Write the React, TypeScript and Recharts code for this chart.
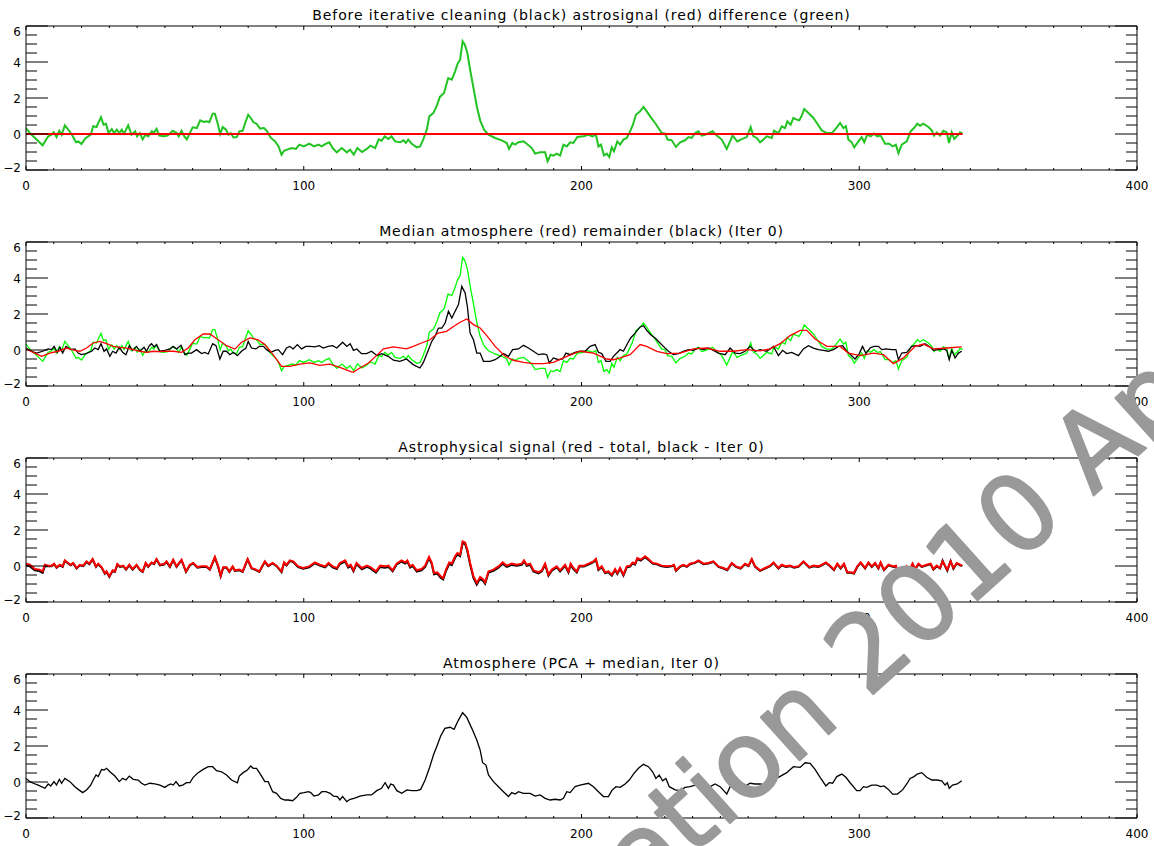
import { Line, LineChart, XAxis, YAxis } from 'recharts'

// x positions for the axis ticks (minor every 10, labelled every 100)
const xTicks = [0, 10, 20, 30, 40, 50, 60, 70, 80, 90, 100, 110, 120, 130, 140, 150, 160, 170, 180, 190, 200,
  210, 220, 230, 240, 250, 260, 270, 280, 290, 300, 310, 320, 330, 340, 350, 360, 370, 380, 390, 400]
// y ticks every 0.5, labelled every 2
const yTicks = [-2, -1.5, -1, -0.5, 0, 0.5, 1, 1.5, 2, 2.5, 3, 3.5, 4, 4.5, 5, 5.5, 6]

const titles = [
  'Before iterative cleaning (black) astrosignal (red) difference (green)',
  'Median atmosphere (red) remainder (black) (Iter 0)',
  'Astrophysical signal (red - total, black - Iter 0)',
  'Atmosphere (PCA + median, Iter 0)',
]

// difference signal (green, panels 1 and 2)
const diffPts: [number, number][] = [
  [0, 0.33], [1.4, 0.05], [3.8, -0.3], [6, -0.63], [8, -0.13], [9.2, -0.04], [10, 0.1], [11, -0.17], [12, 0.18], [12.8, -0.04],
  [14, 0.48], [15.2, 0.24], [16.4, 0], [18, -0.46], [18.8, -0.41], [20, -0.56], [21.2, -0.28], [22.4, -0.13], [23.3, -0.04], [24.2, 0.43],
  [25.4, 0.39], [26, 0.6], [27, 0.93], [27.9, 0.52], [28.8, 0.57], [29.7, 0.05], [30.9, 0.28], [31.7, 0.05], [32.7, 0.24], [33.6, 0.05],
  [34.5, 0.24], [35.3, 0.02], [36.8, 0.48], [38, -0.04], [39.3, 0.15], [40, -0.13], [41, 0.05], [42, -0.3], [43, -0.04], [44, -0.13],
  [45.3, 0.15], [46, 0.05], [47, 0.28], [48, -0.09], [49.5, -0.13], [51, -0.09], [52.8, 0.18], [54.3, 0.05], [55, -0.13], [56, 0.18],
  [57, -0.13], [57.9, -0.3], [59, 0.05], [60, 0.37], [61.5, 0.33], [62.7, 0.76], [64, 0.67], [65, 0.7], [66, 0.65], [67.2, 1.13],
  [68, 1.13], [69, 0.6], [69.9, 0], [70.8, 0.39], [72, 0.24], [72.9, -0.04], [73.7, 0.05], [74.7, -0.19], [75.9, -0.17], [76.8, 0.15],
  [78, 0.18], [78.9, 0.6], [80, 1.07], [80.9, 0.89], [81.9, 0.65], [83, 0.57], [84.3, 0.3], [85.7, 0.33], [86.7, 0.18], [88, -0.19],
  [89.7, -0.41], [90.9, -0.68], [92, -1.15], [92.9, -0.93], [94, -0.87], [95.7, -0.78], [97.2, -0.83], [98.4, -0.59], [100, -0.69], [102, -0.54],
  [103.7, -0.69], [105.3, -0.59], [106.5, -0.69], [107.7, -0.56], [109.2, -0.46], [110.4, -0.78], [111.9, -1.02], [113.7, -0.78], [115.5, -1.02], [116.7, -0.87],
  [118, -1.15], [119.3, -0.78], [121, -1.0], [122.7, -0.83], [124, -0.65], [125.7, -0.78], [127, -0.3], [128, -0.37], [129.2, -0.13], [130.5, -0.28],
  [131.6, -0.13], [132.9, -0.41], [134.7, -0.46], [135.9, -0.35], [136.8, -0.5], [137.6, -0.31], [138.9, -0.54], [140.7, -0.74], [141.9, -0.69], [143, -0.31],
  [144.3, 0.24], [145.2, 0.98], [146.7, 1.17], [147.9, 1.57], [149, 2.06], [150.5, 2.28], [152, 3.11], [153.3, 3.02], [154.5, 3.48], [155.4, 3.91],
  [156.3, 4.13], [157.2, 5.15], [158, 4.96], [158.9, 4.5], [159.9, 3.57], [161.1, 2.56], [162.3, 1.54], [163.5, 0.76], [164.9, 0.24], [166.5, -0.04],
  [168.9, -0.22], [171.3, -0.35], [173.1, -0.5], [173.9, -0.83], [175.1, -0.5], [176.1, -0.59], [177.3, -0.46], [179.1, -0.41], [180.3, -0.54], [182.1, -0.78],
  [183.3, -1.09], [185.1, -1.02], [186.9, -1.02], [187.8, -1.52], [188.9, -1.15], [189.9, -1.2], [191.1, -1.09], [192.3, -1.2], [193.5, -0.59], [194.7, -0.69],
  [195.9, -0.46], [197.1, -0.5], [198.5, -0.17], [200.7, -0.13], [202.5, -0.04], [204, -0.13], [205.2, -0.04], [206.1, -0.69], [207, -0.59], [208.1, -1.19],
  [209.1, -1.09], [210, -1.28], [210.9, -0.74], [211.7, -0.96], [212.9, -0.41], [213.9, -0.59], [215.1, -0.31], [216.3, -0.22], [217.2, 0.05], [218.4, 0.46],
  [219.6, 1.07], [221.1, 1.26], [222.3, 1.5], [223.5, 1.26], [224.9, 0.94], [226.5, 0.61], [227.7, 0.33], [228.9, 0.05], [230.1, 0.02], [231, -0.31],
  [232.5, -0.35], [234, -0.72], [235.5, -0.46], [237.3, -0.35], [238.5, -0.17], [239.7, -0.22], [240.9, 0.05], [242.1, 0.15], [243.3, -0.09], [244.5, -0.04],
  [245.7, 0.05], [247.2, 0.15], [248.7, -0.09], [250.5, -0.31], [252.3, -0.83], [253.5, -0.41], [254.4, -0.09], [256.1, -0.41], [257.7, -0.28], [259.5, -0.17],
  [260.9, 0.39], [261.9, -0.13], [263.1, -0.22], [264.3, -0.46], [265.5, -0.31], [266.7, -0.13], [268.5, -0.22], [269.3, 0.18], [270.9, 0.05], [272.1, 0.43],
  [273.3, 0.33], [274.1, 0.7], [275.3, 0.52], [276.3, 0.89], [277.5, 0.8], [278.4, 0.76], [279.3, 1.02], [280.2, 1.39], [281.7, 1.17], [283.5, 0.89],
  [284.9, 0.57], [286.5, 0.2], [288.3, 0.05], [290.1, 0.05], [291.3, 0.24], [293.1, 0.61], [294.3, 0.33], [295.2, 0.43], [296.1, -0.31], [297.3, -0.46],
  [298.2, -0.74], [299.7, -0.41], [300.9, -0.17], [301.8, -0.46], [302.9, -0.04], [304.1, -0.13], [305.3, 0.02], [306.5, -0.13], [307.7, -0.09], [309.3, -0.54],
  [310.8, -0.54], [312, -0.69], [313.2, -0.59], [314.1, -1.06], [315.3, -0.59], [317.1, -0.41], [318.5, 0.15], [319.7, 0.33], [320.9, 0.57], [321.9, 0.46],
  [323.1, 0.57], [324.9, 0.39], [326.1, 0.2], [326.9, -0.09], [327.9, 0.09], [329.1, -0.09], [330.3, 0.18], [331.5, 0.09], [332.3, -0.5], [333.3, 0.09],
  [334.2, -0.28], [335.7, -0.04], [336.3, 0.09], [337.2, 0.02],
]

// astrosignal before cleaning (red, panel 1)
const astroZeroPts: [number, number][] = [[0, 0], [337.2, 0]]

// median atmosphere (red, panel 2)
const medianPts: [number, number][] = [
  [0, 0.05], [2.6, -0.13], [5.6, -0.35], [8.6, -0.17], [11.6, -0.07], [14.6, 0.11], [17.6, -0.02], [19.4, -0.07], [21.8, 0.11], [24.2, 0.39],
  [26.6, 0.48], [29, 0.35], [31.4, 0.2], [33.8, 0.15], [36.2, 0.11], [38.6, 0.02], [41, -0.07], [43.4, -0.13], [45.8, -0.07], [48.2, -0.09],
  [50.6, -0.07], [53, -0.07], [56, -0.13], [58.4, 0.11], [60.8, 0.57], [63.8, 0.89], [66.2, 0.89], [69.2, 0.57], [72.2, 0.24], [75.2, 0.05],
  [77.6, 0.43], [80.6, 0.67], [83.6, 0.57], [86, 0.3], [89, -0.26], [92, -0.91], [95, -0.91], [98.6, -0.78], [102.2, -0.72], [105.8, -0.85],
  [109.4, -0.78], [113, -0.96], [116.7, -1.19], [117.8, -1.24], [120.2, -1.0], [123.3, -0.72], [126.3, -0.3], [128.7, 0.07], [132.2, 0.17], [137, 0.06],
  [139.4, 0.2], [142.4, 0.39], [145.4, 0.57], [148.4, 0.94], [151.4, 1.04], [153.9, 1.31], [156.3, 1.54], [158.7, 1.72], [161.1, 1.41], [163.5, 1.22],
  [165.9, 0.8], [168.9, 0.2], [172.5, -0.35], [175.5, -0.57], [179.1, -0.69], [182.7, -0.76], [186.3, -0.76], [189.9, -0.69], [194.7, -0.35], [199.5, -0.07],
  [204.3, -0.17], [209.1, -0.5], [211.5, -0.54], [213.9, -0.44], [217.5, -0.26], [221.1, 0.3], [223.5, 0.2], [227.1, -0.07], [230.7, -0.2], [235.5, -0.17],
  [240.3, 0.06], [245.1, 0.11], [249.9, -0.07], [254.7, -0.07], [259.5, 0.02], [264.3, -0.05], [267.9, 0.06], [271.5, 0.35], [275.1, 0.8], [278.7, 1.09],
  [281.1, 1.09], [284.1, 0.61], [288.3, 0.2], [293.1, 0.2], [296.1, -0.17], [300.3, -0.31], [305.1, -0.17], [308.7, -0.26], [312.3, -0.76], [315.9, -0.44],
  [320.1, 0.2], [323.1, 0.33], [326.7, 0.06], [331.5, 0.11], [336.9, 0.17],
]

// remainder (black, panel 2)
const remainderPts: [number, number][] = [
  [0, 0.11], [2, -0.07], [3.8, -0.17], [6, -0.07], [8, 0.06], [9.2, 0.02], [10.1, 0.2], [11.3, -0.13], [12.2, 0.15], [13.2, -0.17],
  [14.4, 0.2], [16.1, 0.02], [17.6, 0.06], [18.8, -0.17], [20, -0.26], [21.6, -0.2], [23.6, -0.07], [24.8, 0.11], [26, 0.02], [27, 0.35],
  [28.1, -0.07], [29, 0.06], [30.2, -0.35], [31.2, -0.07], [32.4, -0.17], [33.6, 0.15], [34.8, -0.13], [36, -0.26], [37.2, 0.24], [38.4, -0.02],
  [39.8, 0.2], [41, -0.07], [42.5, 0.15], [43.4, -0.07], [44.4, 0.24], [45.2, 0.35], [46.1, 0.17], [47, 0.3], [48.2, -0.07], [50, -0.02],
  [51.8, 0.06], [53, 0.2], [54.2, 0.06], [55.8, 0.26], [57.2, -0.26], [58.4, -0.17], [59.6, -0.17], [61.4, 0.02], [63.2, -0.2], [64.4, -0.13],
  [65.6, -0.22], [67.2, 0.35], [68.4, 0.24], [69.8, -0.5], [71, -0.07], [72.2, -0.07], [73.4, -0.26], [74.6, -0.13], [76.1, -0.31], [77.6, -0.07],
  [79.2, 0.11], [80, 0.48], [81.2, 0.11], [82.8, 0.06], [84, 0.2], [85.5, 0.2], [86.6, 0.02], [88.1, -0.13], [89.7, -0.02], [90.8, 0.02],
  [92.4, -0.26], [93.8, 0.11], [95, 0.2], [96.2, 0.06], [97.7, 0.3], [99.2, 0.06], [100.8, 0.2], [102.2, 0.2], [104, 0.17], [105.6, 0.24],
  [107, 0.11], [108.8, 0.2], [110.4, 0.24], [111.9, 0.11], [114, 0.43], [115.5, 0.2], [116.7, 0.35], [117.9, -0.02], [119.1, 0.06], [120.8, -0.2],
  [122.6, -0.2], [124.4, -0.07], [126.3, -0.31], [128.1, -0.2], [130.4, -0.35], [132.3, -0.57], [134.6, -0.63], [137, -0.5], [139.4, -0.81], [141.8, -1.0],
  [143, -0.72], [144.9, 0.02], [146.1, 0.48], [147.3, 0.76], [148.5, 1.22], [149.7, 1.22], [150.9, 1.5], [152.1, 2.15], [153.3, 1.78], [154.5, 2.15],
  [155.7, 2.52], [156.9, 3.54], [158.1, 3.17], [158.9, 2.43], [159.9, 0.94], [161.1, 0.57], [162.3, -0.17], [163.5, -0.17], [164.7, -0.63], [167.1, -0.63],
  [168.9, -0.54], [170.7, -0.35], [171.9, -0.2], [173.7, -0.35], [175.2, 0.02], [177.3, 0.06], [179.1, 0.26], [180.9, 0.11], [182.7, -0.07], [184.5, -0.26],
  [186.3, -0.22], [187.5, -0.26], [188.4, -0.72], [189.9, -0.44], [191.7, -0.54], [193.2, -0.5], [194.4, -0.17], [195.9, -0.26], [197.7, -0.13], [199.5, -0.07],
  [201.3, -0.07], [203.1, 0.2], [204.9, 0.3], [206.1, -0.13], [207.3, -0.2], [208.8, -0.63], [210.3, -0.63], [211.5, -0.35], [212.7, -0.17], [213.9, 0.02],
  [215.1, -0.07], [216.5, 0.35], [217.7, 0.67], [219.3, 0.94], [221.1, 1.28], [222.3, 1.35], [223.5, 1.09], [224.9, 0.85], [226.5, 0.67], [228, 0.43],
  [229.5, 0.2], [231.3, -0.07], [233.1, -0.26], [234.9, -0.2], [236.7, -0.07], [238.5, 0.02], [240.3, -0.02], [242.1, 0.11], [243.9, 0.02], [245.7, 0.11],
  [247.5, -0.02], [249.3, -0.17], [251.7, -0.26], [253.5, 0.11], [255.3, -0.17], [257.1, -0.2], [258.9, -0.07], [260.7, 0.2], [262.5, -0.07], [264.3, 0.02],
  [266.7, -0.07], [269.1, 0.2], [270.9, -0.31], [272.4, -0.02], [273.9, -0.2], [275.7, -0.13], [278.1, -0.31], [279.9, 0.06], [281.7, 0.24], [283.5, 0.11],
  [285.3, 0.02], [287.1, -0.02], [288.9, -0.07], [290.7, 0.02], [292.5, 0.2], [294, 0.24], [295.5, -0.07], [296.9, -0.26], [298.5, -0.5], [300, -0.2],
  [301.2, 0.2], [302.4, -0.2], [303.9, 0.11], [305.3, 0.2], [306.9, 0.2], [308.1, 0.02], [309.6, 0.06], [311.7, 0.02], [313.2, 0.02], [314.1, -0.54],
  [315.3, -0.17], [317.1, -0.13], [318.9, 0.2], [320.4, 0.24], [321.9, 0.2], [323.7, 0.35], [325.5, 0.17], [326.7, -0.02], [328.5, 0.02], [330.3, 0.06],
  [331.5, -0.02], [332.4, -0.54], [333.3, -0.02], [334.5, -0.44], [335.7, -0.17], [336.9, -0.07],
]

// astrophysical signal, panel 3: [x, total (red), iter 0 (black)]
const astroRows: [number, number, number][] = [
  [0, 0.13, 0.05], [1.4, 0.07, -0.02], [3.2, -0.17, -0.24], [4.8, -0.2, -0.28], [6, -0.3, -0.38], [6.8, 0.07, 0.0], [8, 0.02, -0.02], [9.2, 0.02, -0.01],
  [10.1, 0.13, 0.1], [11, -0.07, -0.1], [12.2, 0.07, 0.04], [13.2, -0.02, -0.05], [14, 0.31, 0.28], [15.2, 0.17, 0.14], [16.1, 0.07, 0.04], [17, 0.17, 0.14],
  [18.2, -0.11, -0.14], [19.4, 0.07, 0.04], [20.6, 0.02, -0.01], [21.8, 0.26, 0.23], [22.8, 0.13, 0.1], [24, 0.39, 0.36], [25.2, -0.02, -0.05], [26, 0.13, 0.1],
  [27.2, -0.06, -0.09], [28.4, -0.39, -0.43], [29, -0.3, -0.33], [30, -0.57, -0.61], [31.2, -0.24, -0.27], [32, -0.3, -0.33], [32.9, 0.11, 0.08], [33.8, -0.02, -0.05],
  [35, 0.02, -0.01], [36, -0.17, -0.2], [37.2, 0.07, 0.04], [38.4, -0.17, -0.2], [39.8, 0.07, 0.04], [41, -0.2, -0.23], [42, -0.3, -0.33], [43.1, 0.17, 0.14],
  [44, -0.02, -0.05], [45.2, 0.2, 0.17], [46.1, 0.13, 0.1], [47, 0.39, 0.36], [48.2, 0.07, 0.04], [49.7, 0.11, 0.08], [50.6, 0.26, 0.23], [51.8, -0.02, -0.05],
  [53, 0.35, 0.32], [54.2, -0.02, -0.05], [56, 0.35, 0.32], [57.6, -0.3, -0.33], [59, 0.07, 0.04], [60.2, 0.17, 0.14], [61.7, -0.06, -0.09], [63.2, -0.02, -0.05],
  [65, -0.02, -0.05], [66.2, -0.17, -0.2], [68, 0.5, 0.47], [69.2, -0.02, -0.05], [70.1, -0.54, -0.57], [71, -0.07, -0.1], [72.2, -0.07, -0.1], [73.2, -0.3, -0.33],
  [74.4, -0.02, -0.05], [75.2, -0.24, -0.27], [76.8, -0.2, -0.23], [78, -0.3, -0.33], [79.8, 0.39, 0.36], [81.2, -0.11, -0.14], [82.8, -0.2, -0.23], [84, -0.3, -0.33],
  [86, 0.26, 0.23], [87.2, 0.02, -0.01], [88.8, 0.17, 0.14], [90.2, 0.02, -0.01], [92, -0.3, -0.34], [92.9, 0.2, 0.16], [93.8, 0.07, 0.03], [95, 0.31, 0.27],
  [96.2, 0.26, 0.22], [98, -0.02, -0.06], [99.8, -0.11, -0.15], [102, -0.02, -0.07], [104, 0.2, 0.15], [105.8, 0.07, 0.02], [107.7, -0.02, -0.07], [108.9, 0.17, 0.12],
  [110.4, -0.02, -0.08], [111.9, -0.11, -0.17], [113, 0.17, 0.11], [114.9, 0.31, 0.25], [116, -0.02, -0.08], [116.9, 0.07, 0.01], [117.9, -0.24, -0.3], [119, 0.17, 0.11],
  [120.9, -0.11, -0.18], [122.7, 0.02, -0.05], [124, -0.06, -0.13], [126, -0.3, -0.37], [127.5, 0.02, -0.05], [129.2, -0.02, -0.09], [130.5, 0.02, -0.05], [132, -0.24, -0.3],
  [133.4, 0.13, 0.07], [135.2, 0.31, 0.25], [136.5, 0.2, 0.14], [137.3, 0.31, 0.25], [138.3, -0.02, -0.08], [139.2, 0.07, 0.01], [140.7, -0.24, -0.31], [142.4, -0.17, -0.24],
  [143.7, 0.02, -0.05], [145.1, 0.5, 0.43], [146.1, 0.17, 0.1], [146.9, -0.39, -0.46], [148.1, -0.35, -0.42], [149.3, -0.57, -0.65], [150.2, -0.67, -0.75], [151.2, -0.2, -0.28],
  [152.4, 0.2, 0.12], [153.3, 0.13, 0.05], [154.5, 0.54, 0.46], [155.3, 0.72, 0.64], [156.3, 0.63, 0.55], [157.2, 1.37, 1.28], [158.1, 1.31, 1.22], [158.9, 0.91, 0.82],
  [159.9, 0.17, 0.08], [161.1, -0.57, -0.66], [162.3, -0.94, -1.03], [163.5, -0.61, -0.7], [164.7, -0.76, -0.85], [165.3, -0.91, -0.98], [166.5, -0.3, -0.37], [168.3, -0.2, -0.27],
  [170.1, -0.02, -0.09], [171.6, 0.2, 0.13], [173.1, 0.02, -0.05], [174.9, 0.13, 0.06], [176.7, 0.07, 0.01], [178.5, 0.13, 0.07], [179.3, 0.31, 0.25], [180.3, 0.07, 0.01],
  [181.5, 0.13, 0.07], [182.7, -0.24, -0.3], [184.5, -0.35, -0.41], [185.7, -0.24, -0.3], [186.9, 0.13, 0.07], [188.1, -0.48, -0.54], [189.3, -0.2, -0.26], [191.1, -0.02, -0.08],
  [192.3, -0.24, -0.3], [194.1, 0.07, 0.01], [195.3, -0.3, -0.36], [196.1, 0.13, 0.07], [197.1, -0.11, -0.17], [198.3, -0.3, -0.36], [199.2, 0.02, -0.03], [200.9, 0.02, -0.03],
  [202.5, 0.13, 0.08], [204.3, 0.26, 0.21], [205.2, 0.39, 0.34], [206.1, -0.17, -0.22], [207.3, -0.02, -0.07], [208.5, -0.35, -0.4], [209.7, -0.3, -0.35], [210.9, -0.48, -0.53],
  [212.1, -0.17, -0.22], [212.9, -0.39, -0.44], [213.9, -0.11, -0.16], [215.1, -0.48, -0.53], [216.3, -0.02, -0.07], [217.5, 0.02, -0.03], [218.4, 0.2, 0.15], [219.3, 0.13, 0.08],
  [220.1, 0.44, 0.39], [221.3, 0.35, 0.3], [222.9, 0.54, 0.49], [224.1, 0.39, 0.34], [225.6, 0.17, 0.13], [227.1, 0.13, 0.09], [228.9, 0.02, -0.02], [230.7, -0.02, -0.05],
  [232.5, 0.02, -0.01], [233.3, 0.07, 0.04], [234, -0.24, -0.27], [235.5, -0.02, -0.05], [236.7, 0.07, 0.04], [237.9, -0.02, -0.05], [239.1, 0.13, 0.1], [240.9, 0.2, 0.17],
  [242.1, 0.31, 0.28], [243.9, 0.13, 0.1], [245.7, 0.17, 0.14], [247.5, 0.26, 0.23], [249.3, -0.02, -0.05], [251.1, -0.11, -0.14], [252.5, -0.2, -0.23], [254.1, 0.17, 0.14],
  [255.6, -0.02, -0.05], [257.3, -0.11, -0.14], [258.9, 0.13, 0.1], [260.1, 0.02, -0.01], [261.3, 0.39, 0.36], [262.5, -0.02, -0.05], [264.3, -0.24, -0.27], [266.1, -0.11, -0.14],
  [267.9, 0.02, -0.01], [269.1, 0.2, 0.17], [270.9, -0.11, -0.14], [272.1, 0.07, 0.04], [273.6, -0.02, -0.05], [275.1, 0.02, -0.01], [276.5, -0.06, -0.09], [278.1, -0.02, -0.05],
  [279.9, 0.26, 0.23], [282, -0.06, -0.09], [283.5, 0.02, -0.01], [285.3, -0.02, -0.05], [286.5, 0.07, 0.04], [288, 0.2, 0.17], [289.5, 0.02, -0.01], [290.9, -0.2, -0.23],
  [292.1, 0.13, 0.1], [293.3, -0.11, -0.14], [294.5, 0.13, 0.1], [295.7, -0.35, -0.38], [296.9, -0.35, -0.38], [298.1, -0.39, -0.42], [299.3, -0.02, -0.05], [300.5, 0.2, 0.17],
  [302.1, -0.11, -0.14], [303.3, 0.2, 0.17], [304.5, -0.02, -0.05], [305.7, 0.17, 0.14], [306.9, -0.11, -0.14], [307.7, 0.2, 0.17], [308.9, -0.2, -0.23], [310.5, 0.07, 0.04],
  [312.3, -0.02, -0.05], [313.2, 0.02, -0.01], [314.1, -0.43, -0.46], [314.9, -0.17, -0.2], [315.9, -0.3, -0.33], [317.1, -0.02, -0.05], [318, -0.24, -0.27], [319.2, 0.13, 0.1],
  [320.1, -0.17, -0.2], [321.3, 0.13, 0.1], [322.5, -0.02, -0.05], [324.3, 0.07, 0.04], [325.7, 0.13, 0.1], [326.7, -0.17, -0.2], [327.9, 0.02, -0.01], [329.1, -0.11, -0.14],
  [330, 0.26, 0.3], [330.9, 0.02, -0.02], [331.7, -0.2, -0.26], [332.9, 0.26, 0.28], [333.9, -0.11, -0.15], [335.1, 0.17, 0.14], [336.3, 0.07, 0.04], [337.1, 0.02, -0.01],
]

// atmosphere, PCA + median (black, panel 4)
const atmospherePts: [number, number][] = [
  [0, 0.2], [1.4, 0.02], [2.6, -0.07], [4.4, -0.17], [6.8, -0.35], [8, -0.11], [8.9, -0.22], [10.1, 0.02], [11, -0.17], [12, 0.15],
  [12.8, -0.07], [14, 0.2], [15.8, 0.02], [17.6, -0.26], [18.8, -0.41], [20.4, -0.59], [21.8, -0.44], [23.3, -0.17], [24.2, 0.11], [25.2, 0.39],
  [26, 0.3], [27.2, 0.7], [28.1, 0.67], [29, 0.76], [30.2, 0.57], [32, 0.33], [33.6, 0.02], [34.8, 0.2], [36, 0.11], [37.2, 0.33],
  [38.6, 0.15], [40.4, 0.11], [41.6, -0.07], [42.8, -0.17], [44.6, -0.07], [46.4, -0.11], [48.2, -0.17], [50, -0.3], [51.2, -0.17], [52.1, -0.11],
  [53, -0.17], [54, 0.02], [55.2, -0.22], [56.4, -0.17], [57.8, -0.04], [59, -0.04], [60.2, 0.26], [62, 0.52], [63.8, 0.7], [65.6, 0.85],
  [67.2, 0.85], [68.6, 0.63], [70.4, 0.57], [72.2, 0.39], [74, 0.11], [76.1, -0.04], [76.8, 0.33], [78.2, 0.52], [79.7, 0.67], [80.9, 0.89],
  [81.8, 0.76], [83, 0.76], [84.2, 0.48], [86, 0.02], [87.2, 0.02], [88.8, -0.54], [90.2, -0.63], [91.7, -0.91], [93.2, -1.0], [94.4, -1.0],
  [96, -1.04], [97.4, -0.85], [98.6, -0.63], [100.1, -0.59], [101.7, -0.54], [102.5, -0.59], [103.7, -0.78], [105.3, -0.72], [106.5, -0.54], [108, -0.54],
  [109.5, -0.63], [110.7, -0.78], [112.1, -0.81], [113, -1.0], [114, -0.81], [115.5, -1.09], [116.7, -0.96], [118.1, -0.91], [120.3, -0.78], [122.6, -0.72],
  [124.4, -0.72], [126.3, -0.48], [128, -0.35], [129.3, -0.04], [130.5, -0.35], [131.3, -0.11], [132.3, -0.17], [133.5, -0.48], [135.3, -0.63], [137.1, -0.44],
  [138.9, -0.48], [140.7, -0.48], [142.1, -0.41], [143.7, 0.11], [145.2, 0.76], [146.7, 1.5], [148.1, 2.06], [149.3, 2.56], [150.8, 2.98], [152.7, 3.04],
  [154.1, 2.93], [155.7, 3.44], [157.2, 3.85], [158.7, 3.59], [160.5, 2.98], [162.3, 2.33], [163.5, 1.78], [164.4, 1.07], [165.6, 0.94], [166.5, 0.39],
  [168.3, 0.02], [170.1, -0.26], [171.9, -0.54], [173.7, -0.81], [174.9, -0.59], [176.1, -0.67], [177.3, -0.54], [179.1, -0.63], [181.5, -0.63], [183.3, -0.78],
  [185.1, -0.72], [186.9, -0.91], [188.7, -1.0], [190.5, -0.96], [192.3, -1.0], [193.5, -0.91], [194.7, -0.54], [195.9, -0.59], [197.7, -0.26], [199.5, -0.17],
  [202.5, -0.07], [204.3, -0.26], [206.1, -0.54], [207.9, -0.81], [209.7, -0.81], [210.9, -0.48], [212.4, -0.26], [213.9, -0.3], [215.7, -0.11], [217.2, 0.11],
  [218.9, 0.48], [220.5, 0.76], [222.3, 0.98], [224.1, 0.85], [225.6, 0.57], [226.8, 0.2], [228, 0.39], [229.2, 0.07], [230.4, 0.2], [231.6, -0.26],
  [233.7, -0.44], [235.5, -0.48], [237.3, -0.3], [239.1, -0.26], [240.9, -0.17], [242.7, -0.22], [244.5, -0.07], [246.3, -0.26], [248.1, -0.11], [249.9, -0.26],
  [252.3, -0.67], [253.5, -0.26], [255.3, -0.26], [257.1, -0.11], [258.9, -0.22], [260.7, -0.07], [262.5, -0.11], [264.3, -0.11], [266.7, -0.17], [268.5, 0.02],
  [270.9, 0.26], [273.9, 0.52], [276.3, 0.85], [278.7, 0.81], [280.5, 1.07], [282.3, 1.04], [284.1, 0.7], [285.9, 0.26], [288, -0.22], [289.2, -0.04],
  [290.4, -0.07], [291.9, 0.3], [293.7, 0.44], [295.2, 0.26], [296.7, -0.04], [299.1, -0.48], [300.3, -0.48], [301.5, -0.26], [302.7, -0.3], [304.5, -0.17],
  [306.3, -0.17], [307.7, -0.26], [308.9, -0.22], [310.5, -0.41], [312, -0.67], [313.7, -0.67], [315.6, -0.44], [317.1, -0.11], [318.3, 0.2], [319.7, 0.3],
  [320.9, 0.44], [322.5, 0.52], [324.3, 0.26], [326.1, 0.11], [327.9, 0.11], [329.7, 0.07], [330.9, -0.17], [331.7, -0.04], [332.4, -0.35], [333.6, -0.17],
  [335.3, -0.11], [336.9, 0.07],
]

const FONT = '"DejaVu Sans", sans-serif'
const toRows = (pts: [number, number][]) => pts.map(([x, y]) => ({ x, y }))

function BottomTick({ x, y, payload }: any) {
  const v = payload.value
  const major = v % 100 === 0
  return (
    <g>
      <line x1={x} y1={y} x2={x} y2={y - (major ? 4 : 2)} stroke="#000" />
      {major && (
        <text x={x} y={y + 20} textAnchor="middle" fontSize={12} fontFamily={FONT} fill="#000">
          {v}
        </text>
      )}
    </g>
  )
}

function TopTick({ x, y, payload }: any) {
  const major = payload.value % 100 === 0
  return <line x1={x} y1={y} x2={x} y2={y + (major ? 4 : 2)} stroke="#000" />
}

function LeftTick({ x, y, payload }: any) {
  const v = payload.value
  const major = v % 2 === 0
  // IDL nudges the end labels inside the frame
  const nudge = v === 6 ? 5 : v === -2 ? -3 : 0
  return (
    <g>
      <line x1={x} y1={y} x2={x + (major ? 22 : 11)} y2={y} stroke="#000" />
      {major && (
        <text x={x - 5} y={y + 4.5 + nudge} textAnchor="end" fontSize={12} fontFamily={FONT} fill="#000">
          {v < 0 ? `\u2212${-v}` : v}
        </text>
      )}
    </g>
  )
}

function RightTick({ x, y, payload }: any) {
  const major = payload.value % 2 === 0
  return <line x1={x} y1={y} x2={x - (major ? 22 : 11)} y2={y} stroke="#000" />
}

type Series = { rows: { x: number; y: number }[]; color: string; width: number }

function Panel({ top, title, series }: { top: number; title: string; series: Series[] }) {
  return (
    <div style={{ position: 'absolute', left: 0, top, width: 1154, height: 216 }}>
      <div
        style={{
          position: 'absolute',
          left: 26,
          width: 1111,
          top: 6,
          textAlign: 'center',
          fontFamily: FONT,
          fontSize: 14,
          letterSpacing: 0.9,
          lineHeight: '18px',
          color: '#000',
          whiteSpace: 'pre',
        }}
      >
        {title}
      </div>
      {/* each axis is 1px thick, so the plot frame runs 26..1137 x 26..170 */}
      <LineChart width={1154} height={216} margin={{ top: 25, right: 16, bottom: 45, left: 25 }}>
        <XAxis xAxisId="b" type="number" dataKey="x" domain={[0, 400]} ticks={xTicks} interval={0}
          allowDataOverflow height={1} tickSize={0} tickMargin={0} tickLine={false}
          axisLine={{ stroke: '#000' }} tick={BottomTick} />
        <XAxis xAxisId="t" orientation="top" type="number" dataKey="x" domain={[0, 400]} ticks={xTicks} interval={0}
          allowDataOverflow height={1} tickSize={0} tickMargin={0} tickLine={false}
          axisLine={{ stroke: '#000' }} tick={TopTick} />
        <YAxis yAxisId="l" type="number" domain={[-2, 6]} ticks={yTicks} interval={0}
          allowDataOverflow width={1} tickSize={0} tickMargin={0} tickLine={false}
          axisLine={{ stroke: '#000' }} tick={LeftTick} />
        <YAxis yAxisId="r" orientation="right" type="number" domain={[-2, 6]} ticks={yTicks} interval={0}
          allowDataOverflow width={1} tickSize={0} tickMargin={0} tickLine={false}
          axisLine={{ stroke: '#000' }} tick={RightTick} />
        {series.map((s, i) => (
          <Line key={i} xAxisId="b" yAxisId="l" data={s.rows} dataKey="y" type="linear"
            stroke={s.color} strokeWidth={s.width} dot={false} activeDot={false}
            isAnimationActive={false} />
        ))}
      </LineChart>
    </div>
  )
}

export default function App() {
  const astroTotal = astroRows.map(([x, t]) => ({ x, y: t }))
  const astroIter = astroRows.map(([x, , b]) => ({ x, y: b }))
  return (
    <div style={{ position: 'absolute', left: 0, top: 0, width: 1154, height: 846, overflow: 'hidden', background: '#fff' }}>
      <Panel top={0} title={titles[0]} series={[
        { rows: toRows(diffPts), color: '#22c322', width: 2 },
        { rows: toRows(astroZeroPts), color: '#ff0000', width: 2 },
      ]} />
      <Panel top={216} title={titles[1]} series={[
        { rows: toRows(diffPts), color: '#00ff00', width: 1.3 },
        { rows: toRows(remainderPts), color: '#000000', width: 1.3 },
        { rows: toRows(medianPts), color: '#ff0000', width: 1.3 },
      ]} />
      <Panel top={432} title={titles[2]} series={[
        { rows: astroIter, color: '#000000', width: 2 },
        { rows: astroTotal, color: '#ff0000', width: 2 },
      ]} />
      <Panel top={648} title={titles[3]} series={[
        { rows: toRows(atmospherePts), color: '#000000', width: 1.3 },
      ]} />
      <svg width={1154} height={846} style={{ position: 'absolute', left: 0, top: 0, pointerEvents: 'none' }}>
        <text transform="translate(600 940) rotate(-42)" fontFamily={FONT}
          fontSize={106} fill="#999999" stroke="#999999" strokeWidth={2} strokeLinejoin="round">
          cation 2010 April
        </text>
      </svg>
    </div>
  )
}
